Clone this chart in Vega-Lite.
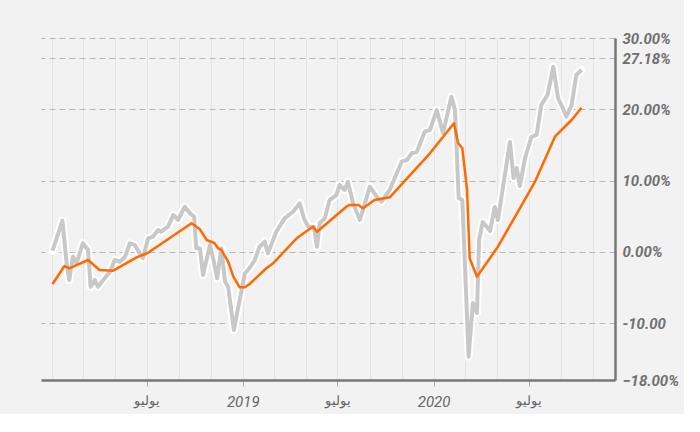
{
  "$schema": "https://vega.github.io/schema/vega-lite/v6.json",
  "width": 574,
  "height": 342,
  "padding": {"left": 41, "top": 31, "right": 5, "bottom": 5},
  "background": "#f2f2f2",
  "config": {"view": {"stroke": null}, "font": "Roboto"},
  "datasets": {
    "price": [
      {"date": "2018-01-02", "value": 0.15},
      {"date": "2018-01-21", "value": 4.36},
      {"date": "2018-01-29", "value": -1.58},
      {"date": "2018-02-03", "value": -3.96},
      {"date": "2018-02-10", "value": -0.69},
      {"date": "2018-02-17", "value": -1.62},
      {"date": "2018-03-01", "value": 1.19},
      {"date": "2018-03-11", "value": 0.25},
      {"date": "2018-03-16", "value": -4.91},
      {"date": "2018-03-24", "value": -3.96},
      {"date": "2018-03-30", "value": -4.91},
      {"date": "2018-04-09", "value": -3.96},
      {"date": "2018-04-22", "value": -2.8},
      {"date": "2018-05-01", "value": -1.16},
      {"date": "2018-05-11", "value": -1.4},
      {"date": "2018-05-21", "value": -0.69},
      {"date": "2018-05-30", "value": 1.19},
      {"date": "2018-06-08", "value": 0.95},
      {"date": "2018-06-18", "value": -0.22},
      {"date": "2018-06-24", "value": -0.88},
      {"date": "2018-07-04", "value": 1.89},
      {"date": "2018-07-13", "value": 2.11},
      {"date": "2018-07-23", "value": 3.05},
      {"date": "2018-07-29", "value": 2.81},
      {"date": "2018-08-11", "value": 3.52},
      {"date": "2018-08-21", "value": 5.16},
      {"date": "2018-08-30", "value": 4.46},
      {"date": "2018-09-12", "value": 6.32},
      {"date": "2018-09-22", "value": 5.4},
      {"date": "2018-09-30", "value": 4.92},
      {"date": "2018-10-04", "value": 0.48},
      {"date": "2018-10-11", "value": 0.48},
      {"date": "2018-10-17", "value": -3.26},
      {"date": "2018-10-30", "value": 0.95},
      {"date": "2018-11-06", "value": -1.16},
      {"date": "2018-11-13", "value": -3.73},
      {"date": "2018-11-21", "value": 0.48},
      {"date": "2018-11-28", "value": -4.2},
      {"date": "2018-12-04", "value": -4.91},
      {"date": "2018-12-15", "value": -10.98},
      {"date": "2018-12-26", "value": -6.77},
      {"date": "2019-01-05", "value": -3.02},
      {"date": "2019-01-14", "value": -2.28},
      {"date": "2019-01-24", "value": -1.16},
      {"date": "2019-02-02", "value": 0.71},
      {"date": "2019-02-12", "value": 1.41},
      {"date": "2019-02-18", "value": -0.22},
      {"date": "2019-02-28", "value": 1.65},
      {"date": "2019-03-06", "value": 2.81},
      {"date": "2019-03-22", "value": 4.69},
      {"date": "2019-04-07", "value": 5.62},
      {"date": "2019-04-20", "value": 6.8},
      {"date": "2019-04-28", "value": 4.69},
      {"date": "2019-05-06", "value": 3.52},
      {"date": "2019-05-17", "value": 3.52},
      {"date": "2019-05-23", "value": 0.71},
      {"date": "2019-05-28", "value": 3.99},
      {"date": "2019-06-07", "value": 4.69},
      {"date": "2019-06-16", "value": 7.26},
      {"date": "2019-06-29", "value": 7.96},
      {"date": "2019-07-05", "value": 9.37},
      {"date": "2019-07-15", "value": 8.67},
      {"date": "2019-07-21", "value": 9.83},
      {"date": "2019-07-31", "value": 6.8},
      {"date": "2019-08-13", "value": 4.46},
      {"date": "2019-09-01", "value": 9.13},
      {"date": "2019-09-14", "value": 7.73},
      {"date": "2019-09-23", "value": 7.02},
      {"date": "2019-10-09", "value": 8.67},
      {"date": "2019-11-01", "value": 12.64},
      {"date": "2019-11-11", "value": 12.88},
      {"date": "2019-11-20", "value": 13.82},
      {"date": "2019-11-30", "value": 14.04},
      {"date": "2019-12-15", "value": 16.85},
      {"date": "2019-12-25", "value": 17.09},
      {"date": "2020-01-07", "value": 19.89},
      {"date": "2020-01-19", "value": 16.62},
      {"date": "2020-02-04", "value": 21.76},
      {"date": "2020-02-11", "value": 19.89},
      {"date": "2020-02-18", "value": 7.54},
      {"date": "2020-02-25", "value": 7.26},
      {"date": "2020-03-08", "value": -14.73},
      {"date": "2020-03-16", "value": -7.19},
      {"date": "2020-03-24", "value": -8.6},
      {"date": "2020-03-28", "value": 1.65},
      {"date": "2020-04-04", "value": 4.18},
      {"date": "2020-04-18", "value": 2.91},
      {"date": "2020-04-27", "value": 6.28},
      {"date": "2020-05-03", "value": 4.46},
      {"date": "2020-05-26", "value": 15.4},
      {"date": "2020-06-02", "value": 10.35},
      {"date": "2020-06-08", "value": 11.75},
      {"date": "2020-06-14", "value": 9.23},
      {"date": "2020-06-24", "value": 13.16},
      {"date": "2020-07-06", "value": 16.11},
      {"date": "2020-07-16", "value": 16.39},
      {"date": "2020-07-25", "value": 20.6},
      {"date": "2020-08-06", "value": 22.0},
      {"date": "2020-08-17", "value": 25.97},
      {"date": "2020-08-26", "value": 21.58},
      {"date": "2020-09-04", "value": 20.18},
      {"date": "2020-09-11", "value": 18.95},
      {"date": "2020-09-21", "value": 20.6},
      {"date": "2020-09-30", "value": 24.81},
      {"date": "2020-10-10", "value": 25.51}
    ],
    "avg": [
      {"date": "2018-01-02", "value": -4.53},
      {"date": "2018-01-25", "value": -2.0},
      {"date": "2018-02-03", "value": -2.32},
      {"date": "2018-03-11", "value": -1.16},
      {"date": "2018-04-02", "value": -2.56},
      {"date": "2018-04-28", "value": -2.66},
      {"date": "2018-06-12", "value": -0.78},
      {"date": "2018-07-03", "value": -0.18},
      {"date": "2018-09-25", "value": 3.99},
      {"date": "2018-10-11", "value": 3.15},
      {"date": "2018-10-24", "value": 1.65},
      {"date": "2018-11-08", "value": 1.19},
      {"date": "2018-11-15", "value": 0.48},
      {"date": "2018-11-21", "value": 0.25},
      {"date": "2018-12-04", "value": -1.4},
      {"date": "2018-12-14", "value": -3.5},
      {"date": "2018-12-26", "value": -4.99},
      {"date": "2019-01-05", "value": -4.99},
      {"date": "2019-01-14", "value": -4.53},
      {"date": "2019-02-15", "value": -2.32},
      {"date": "2019-02-28", "value": -1.62},
      {"date": "2019-04-14", "value": 1.89},
      {"date": "2019-05-15", "value": 3.52},
      {"date": "2019-05-23", "value": 2.81},
      {"date": "2019-07-18", "value": 6.32},
      {"date": "2019-07-24", "value": 6.56},
      {"date": "2019-08-10", "value": 6.56},
      {"date": "2019-08-19", "value": 6.1},
      {"date": "2019-09-10", "value": 7.26},
      {"date": "2019-10-09", "value": 7.64},
      {"date": "2019-12-25", "value": 13.82},
      {"date": "2020-02-09", "value": 18.03},
      {"date": "2020-02-17", "value": 15.22},
      {"date": "2020-02-25", "value": 14.52},
      {"date": "2020-03-05", "value": 8.67},
      {"date": "2020-03-10", "value": -0.92},
      {"date": "2020-03-24", "value": -3.5},
      {"date": "2020-05-03", "value": 0.71},
      {"date": "2020-06-14", "value": 6.1},
      {"date": "2020-07-13", "value": 9.83},
      {"date": "2020-08-20", "value": 16.15},
      {"date": "2020-09-21", "value": 18.49},
      {"date": "2020-10-10", "value": 20.22}
    ]
  },
  "encoding": {
    "x": {
      "field": "date",
      "type": "temporal",
      "scale": {"domain": [{"year": 2017, "month": 12, "date": 11}, {"year": 2020, "month": 12, "date": 13}]},
      "axis": {
        "orient": "bottom",
        "title": null,
        "values": [
          {"year": 2018, "month": 1, "date": 1}, {"year": 2018, "month": 3, "date": 1}, {"year": 2018, "month": 5, "date": 1},
          {"year": 2018, "month": 7, "date": 1}, {"year": 2018, "month": 9, "date": 1}, {"year": 2018, "month": 11, "date": 1},
          {"year": 2019, "month": 1, "date": 1}, {"year": 2019, "month": 3, "date": 1}, {"year": 2019, "month": 5, "date": 1},
          {"year": 2019, "month": 7, "date": 1}, {"year": 2019, "month": 9, "date": 1}, {"year": 2019, "month": 11, "date": 1},
          {"year": 2020, "month": 1, "date": 1}, {"year": 2020, "month": 3, "date": 1}, {"year": 2020, "month": 5, "date": 1},
          {"year": 2020, "month": 7, "date": 1}, {"year": 2020, "month": 9, "date": 1}, {"year": 2020, "month": 11, "date": 1}
        ],
        "grid": true,
        "gridColor": "#e4e4e4",
        "gridWidth": 1,
        "domainColor": "#777777",
        "domainWidth": 2.5,
        "tickSize": 6,
        "tickColor": {"condition": {"test": "(month(datum.value) === 0 && year(datum.value) > 2018) || month(datum.value) === 6", "value": "#aaaaaa"}, "value": "transparent"},
        "labelExpr": "(month(datum.value) === 0 && year(datum.value) > 2018) ? timeFormat(datum.value, '%Y') : (month(datum.value) === 6 ? 'يوليو' : '')",
        "labelFontStyle": {"condition": {"test": "month(datum.value) === 0", "value": "italic"}, "value": "normal"},
        "labelFontSize": {"condition": {"test": "month(datum.value) === 0", "value": 15}, "value": 13},
        "labelColor": "#666666",
        "labelPadding": 8,
        "labelOverlap": false
      }
    },
    "y": {
      "field": "value",
      "type": "quantitative",
      "scale": {"domain": [-18, 30], "nice": false, "zero": false},
      "axis": {
        "orient": "right",
        "title": null,
        "values": [30, 27.18, 20, 10, 0, -10, -18],
        "labelExpr": "datum.value === -10 ? '-10.00' : format(datum.value, '.2f') + '%'",
        "grid": true,
        "gridDash": [6, 4],
        "gridColor": "#b8b8b8",
        "gridWidth": 1.2,
        "ticks": false,
        "domainColor": "#777777",
        "domainWidth": 2.5,
        "labelFontStyle": "italic",
        "labelFontWeight": "bold",
        "labelFontSize": 15,
        "labelColor": "#707070",
        "labelPadding": 7,
        "labelOverlap": false
      }
    }
  },
  "layer": [
    {"data": {"name": "price"}, "mark": {"type": "line", "stroke": "#ffffff", "strokeWidth": 8, "strokeJoin": "round", "strokeCap": "round"}},
    {"data": {"name": "price"}, "mark": {"type": "line", "stroke": "#c8c8c8", "strokeWidth": 4, "strokeJoin": "round"}},
    {"data": {"name": "avg"}, "mark": {"type": "line", "stroke": "#ff6a00", "strokeWidth": 2.5, "strokeJoin": "round"}}
  ]
}
